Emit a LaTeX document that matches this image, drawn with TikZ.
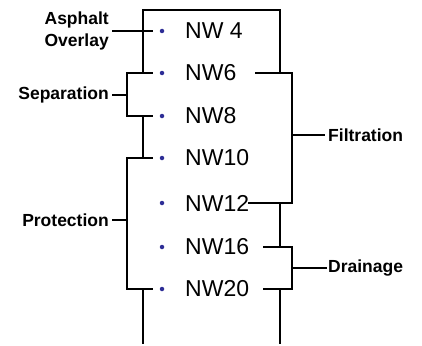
\documentclass[tikz,border=0pt]{standalone}
\usepackage{fontspec}
\setmainfont{Liberation Sans}
\definecolor{dotblue}{RGB}{45,45,150}
\tikzset{
  wire/.style={line width=2pt, line cap=rect},
  rowlabel/.style={anchor=west, inner sep=0pt, font=\fontsize{23}{25}\selectfont},
  uselabel/.style={inner sep=0pt, font=\fontsize{17.5}{22}\selectfont\bfseries, align=right},
  dotmark/.style={circle, fill=dotblue, inner sep=0pt, minimum size=4.5pt}
}
\begin{document}
\begin{tikzpicture}[x=1pt,y=1pt,yscale=-1,xscale=1]
\useasboundingbox (0,0) rectangle (422,345);

% Rows
\node (nw4) [rowlabel] at (185,31) {NW 4};
\node (nw6) [rowlabel] at (185,73) {NW6};
\node (nw8) [rowlabel] at (185,116) {NW8};
\node (nw10) [rowlabel] at (185,158) {NW10};
\node (nw12) [rowlabel] at (185,203) {NW12};
\node (nw16) [rowlabel] at (185,247) {NW16};
\node (nw20) [rowlabel] at (185,289) {NW20};
% Bullets
\foreach \r/\y in {4/31,6/73,8/116,10/158,12/203,16/247,20/289}
  \node (dot\r) [dotmark] at (162,\y) {};

% Text Node
\node (asphalt) [uselabel, anchor=east] at (109,31) {Asphalt\\Overlay};
\node (separation) [uselabel, anchor=east] at (109,95) {Separation};
\node (protection) [uselabel, anchor=east] at (109,220) {Protection};
\node (filtration) [uselabel, anchor=west] at (328,135) {Filtration};
\node (drainage) [uselabel, anchor=west] at (328,268) {Drainage};

% Left stem
\coordinate (ltop) at (143,10);
\coordinate (rtop) at (280,10);
\draw [wire] (280,73) -- (rtop) -- (ltop) -- (143,73);
\draw [wire] (asphalt.east |- 0,31) ++(4,0) -- (152,31);
% Separation bracket
\draw [wire] (152,73) -- (127,73) -- (127,116) -- (152,116);
\draw [wire] (separation.east) ++(4,0) -- (127,95);
\draw [wire] (143,116) -- (143,158);
% Protection bracket
\draw [wire] (152,158) -- (127,158) -- (127,289) -- (152,289);
\draw [wire] (protection.east) ++(4,0) -- (127,220);
\draw [wire] (143,289) -- (143,343);

% Filtration bracket
\draw [wire] (256,73) -- (292,73) -- (292,203) -- (249,203);
\draw [wire] (filtration.west) ++(-4,0) -- (292,135);
\draw [wire] (280,203) -- (280,247);
% Drainage bracket
\draw [wire] (264,247) -- (292,247) -- (292,289) -- (264,289);
\draw [wire] (drainage.west) ++(-2,0) -- (292,268);
\draw [wire] (280,289) -- (280,343);

\end{tikzpicture}
\end{document}
